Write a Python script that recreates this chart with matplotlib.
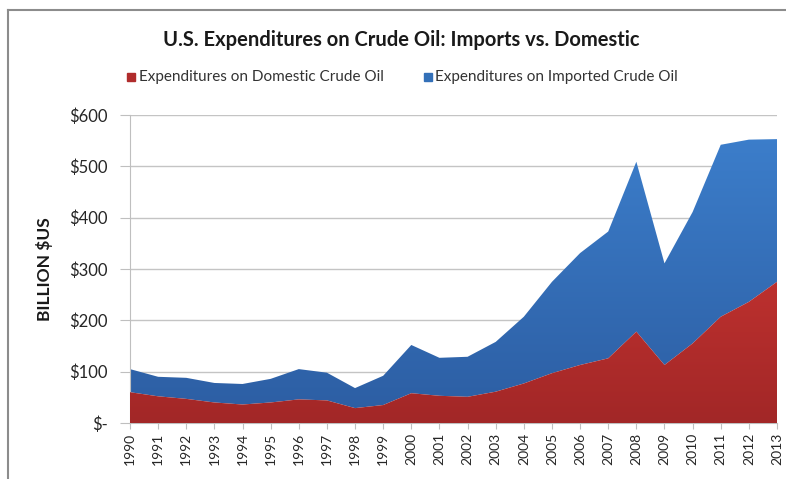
"""U.S. expenditures on crude oil, imports vs. domestic (stacked area)."""

import numpy as np
import matplotlib.pyplot as plt
from matplotlib.colors import LinearSegmentedColormap
from matplotlib.lines import Line2D
from matplotlib.patches import Rectangle

years = list(range(1990, 2014))
# billion $US
domestic = [60, 52, 47, 40, 36, 40, 46, 44, 29, 35, 58, 53,
            51, 61, 77, 97, 113, 126, 178, 113, 155, 207, 236, 275]
imported = [45, 38, 41, 38, 40, 46, 59, 54, 39, 57, 94, 74,
            78, 97, 130, 178, 218, 247, 331, 198, 256, 335, 316, 278]
y_ticks = [0, 100, 200, 300, 400, 500, 600]
y_tick_labels = ["$-", "$100", "$200", "$300", "$400", "$500", "$600"]

TITLE = "U.S. Expenditures on Crude Oil: Imports vs. Domestic"
LABEL_DOM = "Expenditures on Domestic Crude Oil"
LABEL_IMP = "Expenditures on Imported Crude Oil"

plt.rcParams["font.family"] = ["Lato", "DejaVu Sans"]


def gradient_fill(ax, poly, top_color, bottom_color):
    """Paint a vertical gradient clipped to the given fill polygon."""
    cmap = LinearSegmentedColormap.from_list("g", [bottom_color, top_color])
    grad = np.linspace(0, 1, 256).reshape(-1, 1)
    im = ax.imshow(grad, cmap=cmap, origin="lower", aspect="auto",
                   extent=[years[0], years[-1], 0, 560], zorder=poly.get_zorder())
    im.set_clip_path(poly.get_paths()[0], transform=ax.transData)
    poly.set_visible(False)


dom = np.array(domestic)
tot = dom + np.array(imported)

fig = plt.figure(figsize=(7.86, 4.79), dpi=100)
ax = fig.add_axes([130 / 786, 1 - 423 / 479, 647 / 786, 308 / 479])

p_imp = ax.fill_between(years, dom, tot, color="#3370b8", lw=0, zorder=2)
p_dom = ax.fill_between(years, 0, dom, color="#b02c2c", lw=0, zorder=3)
gradient_fill(ax, p_imp, "#3c7ecb", "#2c5da2")
gradient_fill(ax, p_dom, "#d83a36", "#a22727")

ax.set_xlim(years[0], years[-1])
ax.set_ylim(0, 600)
ax.set_yticks(y_ticks)
ax.set_yticklabels(y_tick_labels, fontsize=12, color="#262626")
ax.set_xticks(years)
ax.set_xticklabels([str(y) for y in years], rotation=90, fontsize=10,
                   color="#262626")
ax.grid(axis="y", color="#c4c4c4", lw=1.0, zorder=1)
ax.set_axisbelow(True)
for side in ("top", "right"):
    ax.spines[side].set_visible(False)
for side in ("left", "bottom"):
    ax.spines[side].set_color("#bfbfbf")
ax.tick_params(axis="y", length=7, color="#bfbfbf", pad=9)
ax.tick_params(axis="x", length=4, color="#bfbfbf", pad=3)
ax.set_ylabel("BILLION $US", fontsize=12.5, fontweight="bold", labelpad=12,
              color="#1a1a1a")

fig.text(401 / 786, 1 - 40 / 479, TITLE, ha="center", va="center",
         fontsize=14.5, fontweight="bold", color="#1a1a1a")

# legend row
leg_y = 1 - 77 / 479
fig.patches.append(Rectangle((127 / 786, leg_y - 4 / 479), 8 / 786, 8 / 479,
                             transform=fig.transFigure, color="#b02c2c"))
fig.text(139 / 786, leg_y, LABEL_DOM, ha="left", va="center", fontsize=11,
         color="#333333")
fig.patches.append(Rectangle((424 / 786, leg_y - 4 / 479), 8 / 786, 8 / 479,
                             transform=fig.transFigure, color="#3370b8"))
fig.text(435 / 786, leg_y, LABEL_IMP, ha="left", va="center", fontsize=11,
         color="#333333")

# chart frame (top and left edges visible in the crop)
fig.lines.append(Line2D([8 / 786, 1], [1 - 9.5 / 479, 1 - 9.5 / 479],
                        transform=fig.transFigure, color="#8c8c8c", lw=1.5))
fig.lines.append(Line2D([8 / 786, 8 / 786], [0, 1 - 9.5 / 479],
                        transform=fig.transFigure, color="#8c8c8c", lw=1.5))

fig.savefig("out.png", dpi=100)
